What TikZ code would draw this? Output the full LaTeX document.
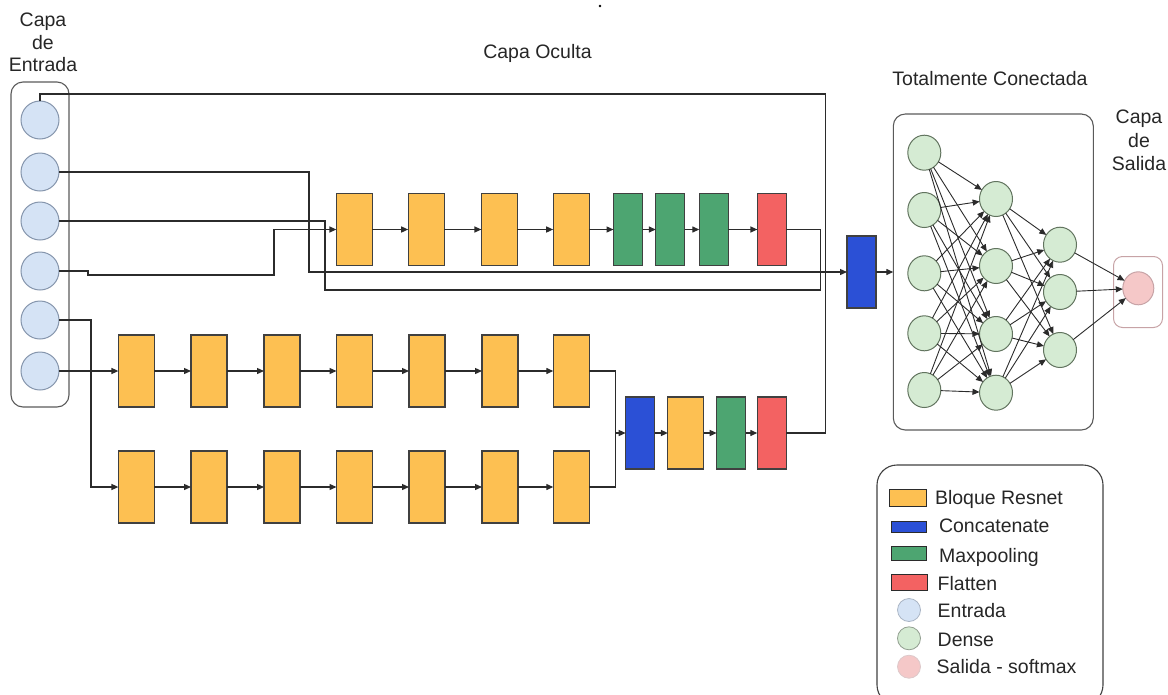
\documentclass[tikz,border=0pt]{standalone}
\usepackage{fontspec}
\setmainfont{Liberation Sans}
\usetikzlibrary{arrows.meta,shapes.geometric}
\definecolor{resC}{HTML}{FDC052}
\definecolor{poolC}{HTML}{4DA571}
\definecolor{flatC}{HTML}{F36262}
\definecolor{catC}{HTML}{2B50D6}
\definecolor{inC}{HTML}{D5E3F5}
\definecolor{inE}{HTML}{8595AC}
\definecolor{denC}{HTML}{D5EBD3}
\definecolor{denE}{HTML}{62745F}
\definecolor{outC}{HTML}{F5C8C8}
\definecolor{outE}{HTML}{C7A3A6}
\definecolor{lineC}{HTML}{2B2B2B}
\definecolor{boxE}{HTML}{5A5A5A}
\begin{document}
\begin{tikzpicture}[x=1pt,y=-1pt,
  every node/.style={inner sep=0pt, outer sep=0pt},
  lbl/.style={font=\fontsize{19.5}{23}\selectfont, text=black!85, anchor=base},
  lgd/.style={font=\fontsize{19.5}{23}\selectfont, text=black!85, anchor=base west},
  blk/.style={draw=lineC!90, line width=1.1, minimum height=72},
  res/.style={blk, fill=resC, minimum width=36},
  pool/.style={blk, fill=poolC, minimum width=29},
  flat/.style={blk, fill=flatC, minimum width=29},
  cat/.style={blk, fill=catC, minimum width=29},
  inp/.style={circle, draw=inE, fill=inC, line width=1, minimum size=38},
  den/.style={ellipse, draw=denE, fill=denC, line width=1, minimum width=33, minimum height=35},
  conn/.style={draw=lineC, line width=1.3},
  arr/.style={conn, -{Triangle[length=7,width=6]}},
  fcarr/.style={draw=lineC, line width=0.9, -{Triangle[length=7,width=6]}},
  frame/.style={draw=boxE, line width=1.1},
]
\useasboundingbox (0,0) rectangle (1168,694);

% ---------- titles ----------
\node[lbl] (tin1) at (43,26) {Capa};
\node[lbl] (tin2) at (43,49) {de};
\node[lbl] (tin3) at (43,71) {Entrada};
\node[lbl] (thid) at (537.5,58.7) {Capa Oculta};
\node[lbl] (tfc) at (990,85.3) {Totalmente Conectada};
\node[lbl] (tout1) at (1139,123.7) {Capa};
\node[lbl] (tout2) at (1139,147) {de};
\node[lbl] (tout3) at (1139,170.3) {Salida};
\fill[black] (600,6) circle (1.3);

% ---------- input layer ----------
\node[frame, rounded corners=12, minimum width=58, minimum height=325] (inbox) at (40,244.5) {};
\foreach \i/\y in {1/120,2/172,3/221,4/271,5/320,6/371}
  \node[inp] (in\i) at (40,\y) {};

% ---------- upper branch ----------
\node[res]  (t1) at (354.4,229.5) {};
\node[res]  (t2) at (426.2,229.5) {};
\node[res]  (t3) at (499.4,229.5) {};
\node[res]  (t4) at (571.2,229.5) {};
\node[pool] (t5) at (628.0,229.5) {};
\node[pool] (t6) at (670.3,229.5) {};
\node[pool] (t7) at (713.8,229.5) {};
\node[flat] (t8) at (771.9,229.5) {};
\foreach \a/\b in {1/2,2/3,3/4,4/5,5/6,6/7,7/8}
  \draw[arr] (t\a.east) -- (t\b.west);

% ---------- lower branches ----------
\foreach \i/\x in {1/136.4,2/209,3/282,4/354.5,5/427,6/500,7/571.3}{
  \node[res] (u\i) at (\x,371) {};
  \node[res] (v\i) at (\x,487) {};
}
\foreach \a/\b in {1/2,2/3,3/4,4/5,5/6,6/7}{
  \draw[arr] (u\a.east) -- (u\b.west);
  \draw[arr] (v\a.east) -- (v\b.west);
}
\node[cat]  (lc) at (640.2,433) {};
\node[res]  (ly) at (685.9,433) {};
\node[pool] (lp) at (731.2,433) {};
\node[flat] (lf) at (771.8,433) {};
\coordinate (jn) at (615.7,433);
\draw[conn] (u7.east) -| (jn);
\draw[conn] (v7.east) -| (jn);
\draw[arr] (jn) -- (lc.west);
\draw[arr] (lc.east) -- (ly.west);
\draw[arr] (ly.east) -- (lp.west);
\draw[arr] (lp.east) -- (lf.west);

% ---------- concatenate ----------
\node[cat] (cat) at (861.5,272) {};

% ---------- routing from the inputs ----------
\draw[conn] (in1.north) |- (825.7,94) |- (lf.east);
\draw[arr]  (in2.east) -- (309,172) |- (cat.west);
\draw[conn] (in3.east) -- (325,221) -- (325,290) -- (820.7,290) |- (t8.east);
\draw[arr]  (in4.east) -- (88,271) -- (88,275) -- (274,275) |- (t1.west);
\draw[arr]  (in5.east) -- (91,320) |- (v1.west);
\draw[arr]  (in6.east) -- (u1.west);

% ---------- fully connected block ----------
\node[frame, rounded corners=12, minimum width=200, minimum height=316] (fc) at (993.3,272) {};
\draw[arr] (cat.east) -- (fc.west |- cat.east);
\foreach \i/\y in {1/152.7,2/210,3/273.3,4/333.3,5/390}
  \node[den] (a\i) at (924.3,\y) {};
\foreach \i/\y in {1/199,2/266,3/334,4/392.7}
  \node[den] (b\i) at (996,\y) {};
\foreach \i/\y in {1/244.7,2/292,3/350}
  \node[den] (c\i) at (1060,\y) {};
\foreach \i in {1,...,5}
  \foreach \j in {1,...,4}
    \draw[fcarr] (a\i) -- (b\j);
\foreach \i in {1,...,4}
  \foreach \j in {1,...,3}
    \draw[fcarr] (b\i) -- (c\j);

% ---------- output layer ----------
\node[draw=outE, line width=1, rounded corners=9, minimum width=49, minimum height=71] (obox) at (1138,292) {};
\node[ellipse, draw=outE, fill=outC, line width=1, minimum width=31, minimum height=33] (o) at (1138.3,288.3) {};
\foreach \j in {1,2,3}
  \draw[fcarr] (c\j) -- (o);

% ---------- legend ----------
\node[draw=lineC!90, line width=1.1, rounded corners=20, minimum width=226, minimum height=240] (lg) at (990,585) {};
\node[draw=lineC, line width=1, fill=resC,  minimum width=36.7, minimum height=16.7] (k1) at (908.3,498.3) {};
\node[draw=lineC, line width=1, fill=catC,  minimum width=35,   minimum height=11]   (k2) at (908.5,527.2) {};
\node[draw=lineC, line width=1, fill=poolC, minimum width=35,   minimum height=14]   (k3) at (908.5,553.7) {};
\node[draw=lineC, line width=1, fill=flatC, minimum width=35.7, minimum height=15.7] (k4) at (909.8,582.2) {};
\node[circle, draw=inE!70,  fill=inC,  line width=0.8, minimum size=23] (k5) at (909,610) {};
\node[circle, draw=denE!70, fill=denC, line width=0.8, minimum size=23] (k6) at (909,638.3) {};
\node[circle, draw=outE!60, fill=outC, line width=0.8, minimum size=23] (k7) at (909,666.7) {};
\node[lgd] (l1) at (935,504)   {Bloque Resnet};
\node[lgd] (l2) at (939,532.7) {Concatenate};
\node[lgd] (l3) at (939,562)   {Maxpooling};
\node[lgd] (l4) at (937.7,590) {Flatten};
\node[lgd] (l5) at (937.7,617) {Entrada};
\node[lgd] (l6) at (937.7,646) {Dense};
\node[lgd] (l7) at (936.7,673.3) {Salida - softmax};
\end{tikzpicture}
\end{document}
